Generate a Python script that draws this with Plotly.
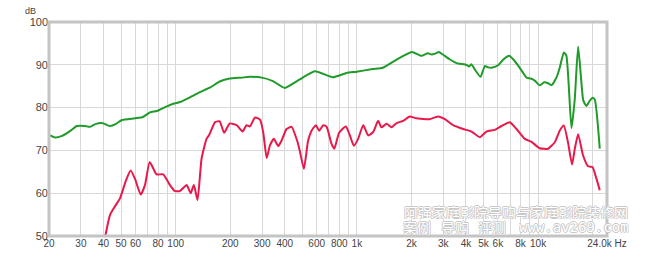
import plotly.graph_objects as go

# ---- data ----
green_freq = [20, 21.6, 23.6, 26.1, 28.5, 31.6, 33.7, 36.3, 39.2, 43.4, 46.9, 50.5, 59.6, 66.0,
              72.1, 78.8, 87.3, 95.4, 105.6, 119.9, 136, 155, 175, 199, 230, 257, 299, 344, 400,
              484, 586, 737, 877, 996, 1224, 1390, 1655, 2010, 2274, 2462, 2582, 2700, 2832, 2980,
              3250, 3548, 4028, 4150, 4292, 4476, 4810, 5082, 5300, 5534, 6018, 6412, 6920, 7280,
              7920, 8300, 8630, 9100, 9590, 10210, 10800, 11350, 11850, 12620, 13200, 13860, 14330,
              15280, 15930, 16630, 17710, 18100, 18490, 19280, 19950, 20540, 21890]
green_db = [73.6, 73.0, 73.4, 74.5, 75.7, 75.7, 75.5, 76.2, 76.4, 75.7, 76.2, 77.1, 77.5, 77.8,
            78.9, 79.2, 80.1, 80.8, 81.3, 82.4, 83.6, 84.7, 86.1, 86.8, 87.0, 87.2, 87.0, 86.2, 84.6,
            86.6, 88.5, 87.1, 88.1, 88.4, 89.0, 89.3, 91.2, 93.0, 92.1, 92.7, 92.4, 92.6, 93.0, 92.4,
            91.3, 90.4, 90.0, 89.6, 90.1, 88.9, 87.2, 89.7, 89.4, 89.3, 89.9, 91.2, 92.1, 91.3,
            89.3, 88.0, 87.0, 86.8, 86.3, 85.2, 85.9, 85.7, 85.2, 87.0, 89.5, 92.9, 92.1,
            75.2, 81.9, 94.3, 81.9, 80.9, 80.4, 81.6, 82.3, 81.9, 70.4]

red_freq = [40.9, 43.4, 46.2, 49.3, 53.2, 56.4, 59.6, 64.1, 67.7, 71.9, 78.5, 85.4, 93.0, 99.1,
            105.6, 115, 121, 126, 132, 139, 148, 153, 165, 175, 185, 199, 217, 234, 246, 257, 274,
            292, 304, 318, 331, 348, 368, 384, 409, 436, 471, 484, 510, 538, 562, 594, 619, 652,
            681, 725, 750, 798, 869, 915, 962, 1016, 1084, 1154, 1230, 1310, 1366, 1458, 1553,
            1657, 1800, 1957, 2125, 2415, 2526, 2806, 3056, 3396, 3856, 4292, 4768, 5190, 5770,
            6280, 6980, 7600, 8440, 9190, 10210, 11350, 12360, 13160, 13860, 14620, 15390, 15930,
            16630, 17710, 18870, 19950, 20990, 21890]
red_db = [50.0, 54.9, 56.9, 58.8, 63.0, 65.3, 63.4, 59.7, 61.9, 67.3, 64.4, 64.4, 61.9, 60.5,
          60.5, 61.9, 60.0, 61.9, 58.4, 68.1, 72.7, 73.6, 76.6, 76.8, 74.1, 76.3, 75.9, 74.4, 75.9,
          75.6, 77.7, 77.2, 74.3, 68.2, 71.1, 72.7, 71.0, 72.3, 75.0, 75.5, 71.9, 69.9, 65.7, 72.3,
          74.6, 75.9, 74.6, 75.9, 75.5, 71.5, 70.4, 74.1, 75.6, 73.5, 71.1, 72.7, 75.9, 73.5, 74.3,
          76.9, 75.4, 76.2, 75.4, 76.4, 76.9, 77.9, 77.5, 77.3, 77.3, 77.9, 77.3, 75.9, 75.0, 74.4,
          73.1, 74.4, 74.8, 75.7, 76.6, 75.0, 72.7, 72.0, 70.5, 70.4, 71.9, 74.6, 75.8, 71.9, 66.7,
          70.3, 73.8, 68.8, 66.3, 66.1, 63.4, 60.7]

grid_vals = [20, 30, 40, 50, 60, 70, 80, 90, 100, 200, 300, 400, 500, 600, 700, 800, 900,
             1000, 2000, 3000, 4000, 5000, 6000, 7000, 8000, 9000, 10000, 20000, 24000]
grid_text = ["20", "30", "40", "50", "60", "", "80", "", "100", "200", "300", "400", "", "600",
             "", "800", "", "1k", "2k", "3k", "4k", "5k", "6k", "", "8k", "", "10k", "", "24.0k Hz"]
y_vals = [50, 60, 70, 80, 90, 100]

wm_line1 = "阿强家庭影院导购与家庭影院装修网"
wm_line2_words = ["案例", "导购", "评测"]
wm_url = "www.av269.com"

GREEN = "#1e9b28"
RED = "#e8194a"

fig = go.Figure()
fig.add_trace(go.Scatter(x=green_freq, y=green_db, mode="lines",
                         line=dict(color=GREEN, width=2, shape="spline", smoothing=0.5),
                         hoverinfo="skip", showlegend=False))
fig.add_trace(go.Scatter(x=red_freq, y=red_db, mode="lines",
                         line=dict(color=RED, width=2, shape="spline", smoothing=0.5),
                         hoverinfo="skip", showlegend=False))

fig.update_layout(
    width=650, height=261,
    margin=dict(l=49, r=43, t=22, b=23),
    paper_bgcolor="white", plot_bgcolor="white",
    font=dict(family="Liberation Sans, Arial, sans-serif", size=10, color="#444444"),
    xaxis=dict(type="log", range=[1.30103, 4.38021], tickvals=grid_vals, ticktext=grid_text,
               showgrid=True, gridcolor="#d9d9d9", gridwidth=1, zeroline=False,
               showline=False, ticks="", tickfont=dict(size=10), tickangle=0),
    yaxis=dict(range=[50, 100], tickvals=y_vals, showgrid=True, gridcolor="#d9d9d9",
               gridwidth=1, zeroline=False, showline=False, ticks="", ticklen=0,
               tickfont=dict(size=11)),
)

fig.add_shape(type="rect", xref="paper", yref="paper", x0=0, x1=1, y0=0, y1=1,
              line=dict(color="#c4c4c4", width=3), layer="above")

fig.add_annotation(text="dB", xref="paper", yref="paper", x=-0.02, y=1.0, yshift=4,
                   xanchor="right", yanchor="bottom", showarrow=False,
                   font=dict(size=9, color="#444444"))

outline = "-1px 0 #c8c8c8, 1px 0 #c8c8c8, 0 -1px #c8c8c8, 0 1px #c8c8c8"
wm_font = dict(family="Noto Sans CJK SC", size=14, color="white", shadow=outline)

fig.add_annotation(text=wm_line1, xref="paper", yref="paper", height=14, borderpad=0,
                   x=(403 - 49) / 558, y=(238 - 214) / 216, xanchor="left", yanchor="middle",
                   showarrow=False, font=wm_font)
for word, px in zip(wm_line2_words, [402, 440, 477]):
    fig.add_annotation(text=word, xref="paper", yref="paper", height=14, borderpad=0,
                       x=(px - 49) / 558, y=(238 - 229) / 216, xanchor="left", yanchor="middle",
                       showarrow=False, font=wm_font)
fig.add_annotation(text=wm_url, xref="paper", yref="paper", height=14, borderpad=0,
                   x=(518 - 49) / 558, y=(238 - 229) / 216, xanchor="left", yanchor="middle",
                   showarrow=False,
                   font=dict(family="DejaVu Sans Mono", size=14, color="white", shadow=outline))

fig.write_html("out.html")
